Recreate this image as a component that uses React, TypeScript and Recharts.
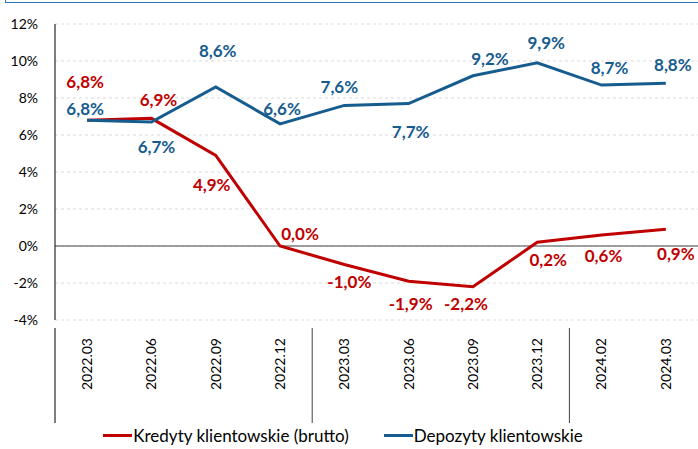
import { LineChart, Line, XAxis, YAxis, CartesianGrid, Legend, ReferenceLine, LabelList } from 'recharts';

const categories = ['2022.03', '2022.06', '2022.09', '2022.12', '2023.03', '2023.06', '2023.09', '2023.12', '2024.02', '2024.03'];
const kredyty = [6.8, 6.9, 4.9, 0.0, -1.0, -1.9, -2.2, 0.2, 0.6, 0.9];
const depozyty = [6.8, 6.7, 8.6, 6.6, 7.6, 7.7, 9.2, 9.9, 8.7, 8.8];
const yTicks = [-4, -2, 0, 2, 4, 6, 8, 10, 12];
// indices of the categories that open a new year (separator drawn on their left edge)
const yearStarts = [0, 4, 8];

const RED = '#C00000';
const BLUE = '#175C8F';
const FONT = 'Lato, "Open Sans", sans-serif';

const W = 698;
const H = 449;
const Y_AXIS_W = 55;
const HALF_BAND = (W - Y_AXIS_W) / categories.length / 2;

// label offsets (dx, dy) relative to each point
const redOffsets: [number, number][] = [
  [-2, -39], [7, -19], [-4, 29], [20, -13], [5, 17], [2, 22], [-7, 17], [11, 17], [2, 21], [10, 24],
];
const blueOffsets: [number, number][] = [
  [-2, -12], [5, 24], [2, -36], [2, -15], [-5, -19], [2, 28], [17, -17], [9, -20], [8, -18], [7, -19],
];

const data = categories.map((c, i) => ({ okres: c, kredyty: kredyty[i], depozyty: depozyty[i] }));

const fmt = (v: number) => `${v.toFixed(1).replace('.', ',')}%`;

function makeLabel(color: string, offsets: [number, number][]) {
  return (props: any) => {
    const { x, y, value, index } = props;
    const [dx, dy] = offsets[index] || [0, 0];
    return (
      <text
        x={x + dx}
        y={y + dy}
        textAnchor="middle"
        dominantBaseline="central"
        fill={color}
        fontFamily={FONT}
        fontWeight={700}
        fontSize={17}
      >
        {fmt(value)}
      </text>
    );
  };
}

function CategoryTick(props: any) {
  const { x, y, payload, index } = props;
  return (
    <g>
      {yearStarts.includes(index) && (
        <line x1={x - HALF_BAND} y1={y} x2={x - HALF_BAND} y2={y + 95} stroke={index === 0 ? '#000' : '#404040'} strokeWidth={1} />
      )}
      <text
        x={x}
        y={y + 10}
        dy="0.35em"
        transform={`rotate(-90, ${x}, ${y + 10})`}
        textAnchor="end"
        fontFamily={FONT}
        fontSize={14}
        fill="#000"
      >
        {payload.value}
      </text>
    </g>
  );
}

function LegendContent() {
  const items = [
    { name: 'Kredyty klientowskie (brutto)', color: RED },
    { name: 'Depozyty klientowskie', color: BLUE },
  ];
  return (
    <div style={{ display: 'flex', justifyContent: 'center', gap: 35, height: 28, alignItems: 'center', fontFamily: FONT, fontSize: 17, color: '#000', paddingRight: 12 }}>
      {items.map((it) => (
        <div key={it.name} style={{ display: 'flex', alignItems: 'center' }}>
          <span style={{ display: 'inline-block', width: 29, height: 3, background: it.color, marginRight: 1 }} />
          <span>{it.name}</span>
        </div>
      ))}
    </div>
  );
}

export default function App() {
  return (
    <div style={{ position: 'absolute', left: 0, top: 0, width: W, height: H, background: '#fff', overflow: 'hidden' }}>
      <div style={{ position: 'absolute', left: 5, top: -10, width: 700, height: 11, border: '1.5px solid #2E75B6' }} />
      <LineChart width={W} height={H} data={data} margin={{ top: 24, right: 0, left: 0, bottom: 0 }}>
        <CartesianGrid vertical={false} stroke="#d9d9d9" strokeDasharray="3 3" />
        <XAxis dataKey="okres" scale="band" axisLine={false} tickLine={false} height={101} interval={0} tick={<CategoryTick />} />
        <YAxis
          domain={[-4, 12]}
          ticks={yTicks}
          width={Y_AXIS_W}
          tickFormatter={(v) => `${v}%`}
          axisLine={{ stroke: '#000', strokeWidth: 1 }}
          tickLine={false}
          tickMargin={11}
          tick={{ fontFamily: FONT, fontSize: 14, fill: '#000' }}
        />
        <ReferenceLine y={0} stroke="#808080" strokeWidth={1.5} />
        <Legend verticalAlign="bottom" content={<LegendContent />} />
        <Line type="linear" dataKey="kredyty" stroke={RED} strokeWidth={3} dot={false} isAnimationActive={false} name="Kredyty klientowskie (brutto)">
          <LabelList dataKey="kredyty" content={makeLabel(RED, redOffsets)} />
        </Line>
        <Line type="linear" dataKey="depozyty" stroke={BLUE} strokeWidth={3} dot={false} isAnimationActive={false} name="Depozyty klientowskie">
          <LabelList dataKey="depozyty" content={makeLabel(BLUE, blueOffsets)} />
        </Line>
      </LineChart>
    </div>
  );
}
